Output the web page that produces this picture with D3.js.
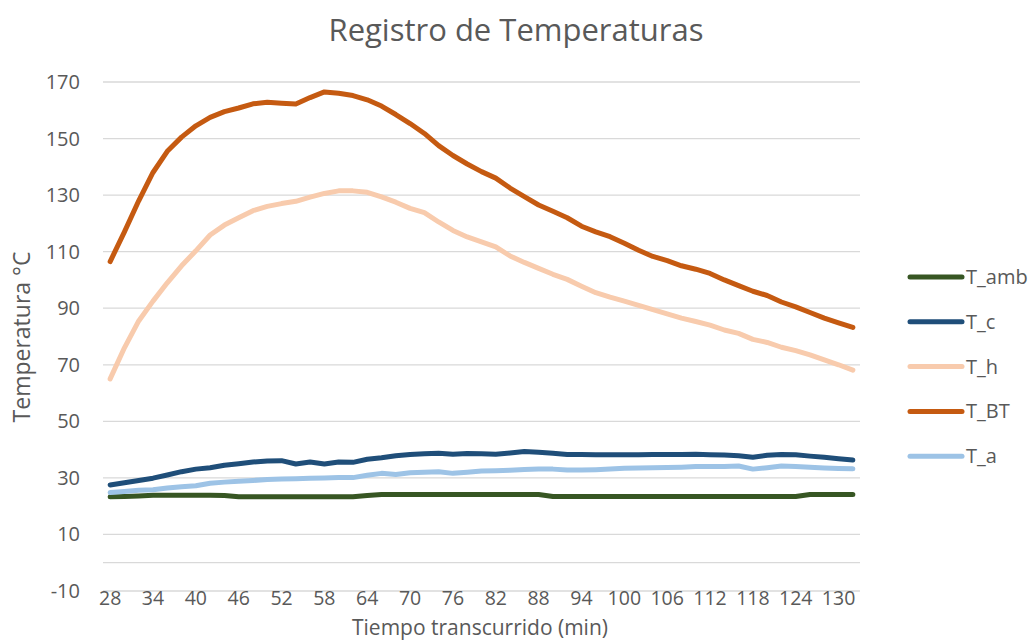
<!DOCTYPE html>
<html>
<head>
<meta charset="utf-8">
<script src="https://cdn.jsdelivr.net/npm/d3@7"></script>
<style>
    body { margin: 0; background: #fff; }
    text { font-family: "Open Sans", sans-serif; fill: #595959; }
</style>
</head>
<body>
<div id="chart"></div>
<script>
// Elapsed time in minutes (categories)
const minutes = d3.range(28, 133, 2);

// Temperature readings (°C), one per category
const tAmb = [23.3, 23.4, 23.6, 23.9, 23.9, 23.9, 23.9, 23.9, 23.8, 23.3,
    23.3, 23.3, 23.3, 23.3, 23.3, 23.3, 23.3, 23.3, 23.8, 24.1,
    24.1, 24.1, 24.1, 24.1, 24.1, 24.1, 24.1, 24.1, 24.1, 24.1,
    24.1, 23.4, 23.4, 23.4, 23.4, 23.4, 23.4, 23.4, 23.4, 23.4,
    23.4, 23.4, 23.4, 23.4, 23.4, 23.4, 23.4, 23.4, 23.4, 24.1,
    24.1, 24.1, 24.1];
const tC = [27.5, 28.3, 29.1, 29.9, 31, 32.2, 33.1, 33.6, 34.5, 35,
    35.6, 36, 36.1, 34.9, 35.6, 34.9, 35.6, 35.5, 36.6, 37.1,
    37.8, 38.3, 38.5, 38.7, 38.4, 38.6, 38.5, 38.4, 38.8, 39.3,
    39.1, 38.7, 38.3, 38.3, 38.2, 38.2, 38.2, 38.2, 38.3, 38.3,
    38.3, 38.4, 38.2, 38.1, 37.8, 37.3, 38, 38.3, 38.2, 37.7,
    37.3, 36.8, 36.3];
const tH = [65, 76, 85.5, 92.5, 99, 105, 110.3, 115.9, 119.4, 122,
    124.5, 126, 127, 127.8, 129.3, 130.6, 131.5, 131.5, 131, 129.4,
    127.5, 125.3, 123.8, 120.5, 117.5, 115.2, 113.5, 111.7, 108.5, 106.2,
    104.1, 102, 100.2, 97.8, 95.5, 93.9, 92.5, 91, 89.5, 88,
    86.5, 85.3, 84, 82.3, 81.1, 79, 77.9, 76.2, 75, 73.5,
    71.7, 70, 68.1];
const tBT = [106.5, 117, 128, 138, 145.5, 150.5, 154.5, 157.5, 159.5, 160.8,
    162.3, 162.8, 162.5, 162.2, 164.5, 166.5, 166, 165.2, 163.7, 161.5,
    158.5, 155.3, 151.8, 147.5, 144, 141, 138.3, 136, 132.5, 129.5,
    126.5, 124.3, 122, 119, 117, 115.3, 113, 110.5, 108.3, 106.8,
    105, 103.8, 102.3, 100, 98, 96, 94.5, 92.2, 90.5, 88.5,
    86.5, 84.8, 83.2];
const tA = [24.8, 25.2, 25.6, 25.8, 26.4, 26.9, 27.2, 28.1, 28.5, 28.8,
    29.1, 29.4, 29.6, 29.7, 29.9, 30, 30.1, 30.1, 30.9, 31.6,
    31.2, 31.8, 32, 32.2, 31.6, 32, 32.4, 32.5, 32.7, 33,
    33.1, 33.1, 32.8, 32.8, 32.9, 33.1, 33.4, 33.5, 33.6, 33.7,
    33.8, 34, 34, 34, 34.2, 33.1, 33.6, 34.2, 34, 33.8,
    33.5, 33.3, 33.2];

const seriesNames = ["T_amb", "T_c", "T_h", "T_BT", "T_a"];
const seriesValues = [tAmb, tC, tH, tBT, tA];
const seriesColors = ["#375623", "#1f4e79", "#f8cbad", "#c55a11", "#9dc3e6"];

const yTicks = d3.range(-10, 171, 20);

const width = 1035;
const height = 640;
const plot = { left: 103, right: 860, top: 82, bottom: 591 };

const svg = d3.select("#chart")
    .append("svg")
    .attr("width", width)
    .attr("height", height);

const xScale = d3.scaleBand()
    .domain(minutes)
    .range([plot.left, plot.right])
    .padding(0);

const yScale = d3.scaleLinear()
    .domain([-10, 170])
    .range([plot.bottom, plot.top]);

const xPos = m => xScale(m) + xScale.bandwidth() / 2;

// Gridlines (plus the horizontal axis line at 0)
svg.append("g")
    .selectAll("line")
    .data(yTicks.concat([0]))
    .enter()
    .append("line")
    .attr("x1", plot.left)
    .attr("x2", plot.right)
    .attr("y1", d => yScale(d))
    .attr("y2", d => yScale(d))
    .attr("stroke", "#d9d9d9")
    .attr("stroke-width", 1.3);

// Y axis labels
svg.append("g")
    .selectAll("text")
    .data(yTicks)
    .enter()
    .append("text")
    .attr("x", 80)
    .attr("y", d => yScale(d))
    .attr("dy", "0.35em")
    .attr("text-anchor", "end")
    .attr("font-size", 20)
    .text(d => d);

// X axis labels, every third category
svg.append("g")
    .selectAll("text")
    .data(minutes.filter((m, i) => i % 3 === 0))
    .enter()
    .append("text")
    .attr("x", d => xPos(d))
    .attr("y", 598)
    .attr("dy", "0.35em")
    .attr("text-anchor", "middle")
    .attr("font-size", 19.5)
    .text(d => d);

// Lines
const line = d3.line()
    .x((d, i) => xPos(minutes[i]))
    .y(d => yScale(d));

svg.append("g")
    .selectAll("path")
    .data(seriesValues)
    .enter()
    .append("path")
    .attr("d", d => line(d))
    .attr("fill", "none")
    .attr("stroke", (d, i) => seriesColors[i])
    .attr("stroke-width", 5)
    .attr("stroke-linejoin", "round")
    .attr("stroke-linecap", "round");

// Title
svg.append("text")
    .attr("x", 516)
    .attr("y", 30)
    .attr("dy", "0.35em")
    .attr("text-anchor", "middle")
    .attr("font-size", 31)
    .text("Registro de Temperaturas");

// Axis titles
svg.append("text")
    .attr("x", 480)
    .attr("y", 628)
    .attr("dy", "0.35em")
    .attr("text-anchor", "middle")
    .attr("font-size", 21)
    .text("Tiempo transcurrido (min)");

svg.append("text")
    .attr("transform", "translate(22,337) rotate(-90)")
    .attr("dy", "0.35em")
    .attr("text-anchor", "middle")
    .attr("font-size", 23)
    .text("Temperatura °C");

// Legend
const legend = svg.append("g")
    .selectAll("g")
    .data(seriesNames)
    .enter()
    .append("g")
    .attr("transform", (d, i) => `translate(0,${277 + i * 44.8})`);

legend.append("line")
    .attr("x1", 910)
    .attr("x2", 962)
    .attr("stroke", (d, i) => seriesColors[i])
    .attr("stroke-width", 5)
    .attr("stroke-linecap", "round");

legend.append("text")
    .attr("x", 966)
    .attr("dy", "0.35em")
    .attr("font-size", 20)
    .text(d => d);
</script>
</body>
</html>
